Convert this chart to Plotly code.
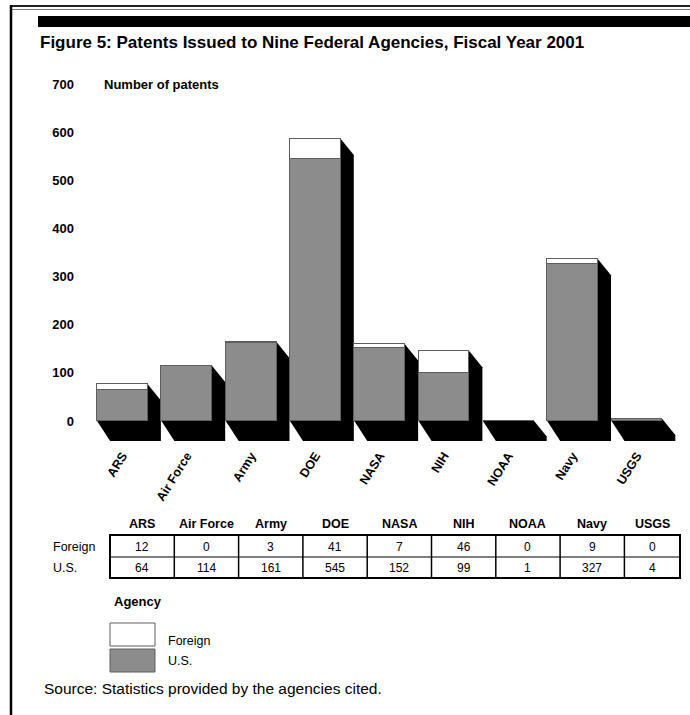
import plotly.graph_objects as go

agencies = ["ARS", "Air Force", "Army", "DOE", "NASA", "NIH", "NOAA", "Navy", "USGS"]
foreign = [12, 0, 3, 41, 7, 46, 0, 9, 0]
us = [64, 114, 161, 545, 152, 99, 1, 327, 4]
y_ticks = [0, 100, 200, 300, 400, 500, 600, 700]

FONT = "Liberation Sans, Arial, Helvetica, sans-serif"
GRAY = "#8c8c8c"
EDGE = "#5e5e5e"

W, H = 690, 715
L, R, T, B = 80, 680, 70, 445
PX_PER_CAT = 64.3
PX_PER_UNIT = 337 / 700.0
XMIN = -(122.5 - L) / PX_PER_CAT
XMAX = XMIN + (R - L) / PX_PER_CAT
YMAX = (421 - T) / PX_PER_UNIT
YMIN = -(B - 421) / PX_PER_UNIT


def xp(px):
    return (px - L) / (R - L)


def yp(py):
    return (B - py) / (B - T)


idx = list(range(len(agencies)))
BW = 0.79

fig = go.Figure()
fig.add_trace(go.Bar(x=idx, y=us, width=BW, marker=dict(color=GRAY, line=dict(color=EDGE, width=1)),
                     name="U.S.", showlegend=False, hoverinfo="skip"))
fig.add_trace(go.Bar(x=idx, y=foreign, width=BW, marker=dict(color="white", line=dict(color=EDGE, width=1)),
                     name="Foreign", showlegend=False, hoverinfo="skip"))

shapes = []
# 3D shadows drawn below the bars
dx = 13 / PX_PER_CAT
dyt = 16 / PX_PER_UNIT
dyb = 20 / PX_PER_UNIT
for i, (u, f) in enumerate(zip(us, foreign)):
    top = u + f
    x0, x1 = i - BW / 2, i + BW / 2
    path = (f"M {x0},{top} L {x1},{top} L {x1+dx},{top-dyt} L {x1+dx},{-dyb} "
            f"L {x0+dx},{-dyb} L {x0},0 Z")
    shapes.append(dict(type="path", path=path, xref="x", yref="y", fillcolor="black",
                       line=dict(width=0), layer="below"))

# frame
shapes.append(dict(type="line", xref="paper", yref="paper", x0=xp(10), x1=xp(690), y0=yp(6), y1=yp(6),
                   line=dict(color="#222", width=2)))
shapes.append(dict(type="line", xref="paper", yref="paper", x0=xp(12), x1=xp(690), y0=yp(9.5), y1=yp(9.5),
                   line=dict(color="#777", width=1)))
shapes.append(dict(type="line", xref="paper", yref="paper", x0=xp(11), x1=xp(11), y0=yp(5), y1=yp(715),
                   line=dict(color="black", width=2.5)))
shapes.append(dict(type="rect", xref="paper", yref="paper", x0=xp(38), x1=xp(690), y0=yp(16), y1=yp(27),
                   fillcolor="black", line=dict(width=0)))

annotations = []
annotations.append(dict(text="<b>Figure 5: Patents Issued to Nine Federal Agencies, Fiscal Year 2001</b>",
                        xref="paper", yref="paper", x=xp(38), y=yp(43), xanchor="left", yanchor="middle",
                        showarrow=False, font=dict(family=FONT, size=17, color="black")))
annotations.append(dict(text="<b>Number of patents</b>", xref="paper", yref="paper", x=xp(102), y=yp(84),
                        xanchor="left", yanchor="middle", showarrow=False,
                        font=dict(family=FONT, size=13, color="black")))

# table
col_edges = [110 + i * PX_PER_CAT for i in range(len(agencies))] + [680]
row_top, row_mid, row_bot = 535, 557, 578
for i, name in enumerate(agencies):
    cx = (col_edges[i] + col_edges[i + 1]) / 2
    annotations.append(dict(text=f"<b>{name}</b>", xref="paper", yref="paper", x=xp(cx), y=yp(524),
                            xanchor="center", yanchor="middle", showarrow=False,
                            font=dict(family=FONT, size=12.5, color="black")))
    annotations.append(dict(text=str(foreign[i]), xref="paper", yref="paper", x=xp(cx), y=yp(547),
                            xanchor="center", yanchor="middle", showarrow=False,
                            font=dict(family=FONT, size=12, color="black")))
    annotations.append(dict(text=str(us[i]), xref="paper", yref="paper", x=xp(cx), y=yp(568),
                            xanchor="center", yanchor="middle", showarrow=False,
                            font=dict(family=FONT, size=12, color="black")))
for e in col_edges[1:-1]:
    shapes.append(dict(type="line", xref="paper", yref="paper", x0=xp(e), x1=xp(e), y0=yp(row_top), y1=yp(row_bot),
                       line=dict(color="black", width=1.5)))
shapes.append(dict(type="line", xref="paper", yref="paper", x0=xp(col_edges[0]), x1=xp(col_edges[-1]),
                   y0=yp(row_mid), y1=yp(row_mid), line=dict(color="black", width=1.2)))
shapes.append(dict(type="rect", xref="paper", yref="paper", x0=xp(col_edges[0]), x1=xp(col_edges[-1]),
                   y0=yp(row_top), y1=yp(row_bot), line=dict(color="black", width=2)))
for label, py in [("Foreign", 547), ("U.S.", 568)]:
    annotations.append(dict(text=label, xref="paper", yref="paper", x=xp(51), y=yp(py),
                            xanchor="left", yanchor="middle", showarrow=False,
                            font=dict(family=FONT, size=12.5, color="black")))

# legend
annotations.append(dict(text="<b>Agency</b>", xref="paper", yref="paper", x=xp(112), y=yp(601),
                        xanchor="left", yanchor="middle", showarrow=False,
                        font=dict(family=FONT, size=13, color="black")))
shapes.append(dict(type="rect", xref="paper", yref="paper", x0=xp(110), x1=xp(155), y0=yp(623), y1=yp(646),
                   fillcolor="white", line=dict(color=EDGE, width=1)))
shapes.append(dict(type="rect", xref="paper", yref="paper", x0=xp(110), x1=xp(155), y0=yp(649), y1=yp(672),
                   fillcolor=GRAY, line=dict(color=EDGE, width=1)))
annotations.append(dict(text="Foreign", xref="paper", yref="paper", x=xp(166), y=yp(641),
                        xanchor="left", yanchor="middle", showarrow=False,
                        font=dict(family=FONT, size=12.5, color="black")))
annotations.append(dict(text="U.S.", xref="paper", yref="paper", x=xp(166), y=yp(661),
                        xanchor="left", yanchor="middle", showarrow=False,
                        font=dict(family=FONT, size=12.5, color="black")))
annotations.append(dict(text="Source: Statistics provided by the agencies cited.", xref="paper", yref="paper",
                        x=xp(42), y=yp(688), xanchor="left", yanchor="middle", showarrow=False,
                        font=dict(family=FONT, size=15.5, color="black")))

fig.update_layout(
    width=W, height=H, margin=dict(l=L, r=W - R, t=T, b=H - B),
    paper_bgcolor="white", plot_bgcolor="white",
    barmode="stack", bargap=0, showlegend=False,
    shapes=shapes, annotations=annotations,
    font=dict(family=FONT, color="black"),
    xaxis=dict(range=[XMIN, XMAX], tickvals=idx, ticktext=[f"<b>{a}</b>" for a in agencies],
               tickangle=-58, tickfont=dict(family=FONT, size=12.5, color="black"),
               showgrid=False, zeroline=False, showline=False, ticks="", fixedrange=True),
    yaxis=dict(range=[YMIN, YMAX], tickvals=y_ticks, ticktext=[f"<b>{v}</b>" for v in y_ticks],
               tickfont=dict(family=FONT, size=13, color="black"), ticklabelstandoff=5,
               showgrid=False, zeroline=False, showline=False, ticks="", fixedrange=True),
)

fig.write_html("out.html")
